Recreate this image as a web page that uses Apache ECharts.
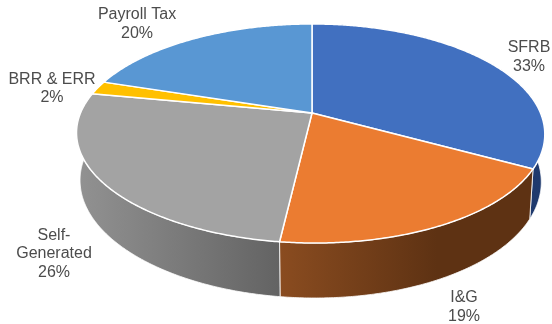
<!DOCTYPE html>
<html>
<head>
<meta charset="utf-8">
<style>html,body{margin:0;padding:0;background:#fff}#chart{width:552px;height:324px}</style>
<script src="https://cdn.jsdelivr.net/npm/echarts@6/dist/echarts.min.js"></script>
</head>
<body>
<div id="chart"></div>
<script>
// Funding sources, percent of total
const categories = ['SFRB', 'I&G', 'Self-\nGenerated', 'BRR & ERR', 'Payroll Tax'];
const shares = [33, 19, 26, 2, 20];

const topColors = ['#4170C0', '#EB7C31', '#A3A3A3', '#FFC000', '#5997D3'];
const wallStops = [
  [[0, '#1b3260'], [1, '#1f3a6e']],
  [[0, '#8a4c20'], [0.62, '#5e3213'], [1, '#5e3213']],
  [[0, '#929292'], [1, '#636363']],
  [[0, '#99730a'], [1, '#99730a']],
  [[0, '#3d6a94'], [1, '#3d6a94']]
];
// Label centre for each slice, in page pixels
const labelAt = [[529, 57], [464, 307], [54, 254], [52, 88.5], [137, 24]];

// Perspective camera for the tilted disc
const cam = {
  cx: 310.5, cy: 113, a: 230, b: 105.7, k: 0.187, depth: 47, baseScale: 0.985,
  skewNear: 4.5, skewFar: 1.5
};

function project(deg, lower) {
  const t = deg * Math.PI / 180;
  const X = Math.sin(t), Y = -Math.cos(t);
  const w = 1 - cam.k * Y;
  const skew = (Y > 0 ? cam.skewNear : cam.skewFar) * Y * Y;
  if (!lower) return [cam.cx + skew + X * cam.a / w, cam.cy + Y * cam.b / w];
  return [
    cam.cx + skew + cam.baseScale * X * cam.a / w,
    cam.cy + cam.baseScale * (Y * cam.b + cam.depth) / w
  ];
}

function arc(from, to, lower) {
  const pts = [];
  const n = Math.max(2, Math.ceil(Math.abs(to - from) * 2));
  for (let i = 0; i <= n; i++) pts.push(project(from + (to - from) * i / n, lower));
  return pts;
}

const total = shares.reduce((s, v) => s + v, 0);
const spans = [];
shares.reduce((acc, v) => { spans.push([acc, acc + v]); return acc + v; }, 0);
const toDeg = v => v / total * 360;

function renderWall(params, api) {
  const i = params.dataIndex;
  const from = toDeg(spans[i][0]), to = toDeg(spans[i][1]);
  const upper = arc(from, to, false), lower = arc(to, from, true);
  const xs = upper.concat(lower).map(p => p[0]);
  return {
    type: 'polygon',
    shape: { points: upper.concat(lower) },
    style: {
      fill: {
        type: 'linear', global: true,
        x: Math.min(...xs), y: 0, x2: Math.max(...xs), y2: 0,
        colorStops: wallStops[i].map(s => ({ offset: s[0], color: s[1] }))
      },
      stroke: '#ffffff', lineWidth: 0.8, lineJoin: 'round'
    }
  };
}

function renderTop(params, api) {
  const i = params.dataIndex;
  const rim = arc(toDeg(spans[i][0]), toDeg(spans[i][1]), false);
  return {
    type: 'group',
    children: [
      {
        type: 'polygon',
        shape: { points: [[cam.cx + cam.skewFar, cam.cy]].concat(rim) },
        style: { fill: topColors[i], stroke: '#ffffff', lineWidth: 1.5, lineJoin: 'round' }
      },
      {
        type: 'text',
        z2: 10,
        style: {
          x: labelAt[i][0], y: labelAt[i][1],
          text: categories[i] + '\n' + shares[i] + '%',
          align: 'center', verticalAlign: 'middle',
          fontFamily: '"Liberation Sans", Arial, sans-serif',
          fontSize: 16, lineHeight: 18.2, fill: '#4c4c4c'
        }
      }
    ]
  };
}

const chart = echarts.init(document.getElementById('chart'), null, { renderer: 'canvas' });
chart.setOption({
  animation: false,
  backgroundColor: '#ffffff',
  series: [
    { type: 'custom', coordinateSystem: 'none', z: 1, renderItem: renderWall, data: shares.map((v, i) => [i, v]).slice(0, 3) },
    { type: 'custom', coordinateSystem: 'none', z: 2, renderItem: renderTop, data: shares.map((v, i) => [i, v]) }
  ]
});
</script>
</body>
</html>
